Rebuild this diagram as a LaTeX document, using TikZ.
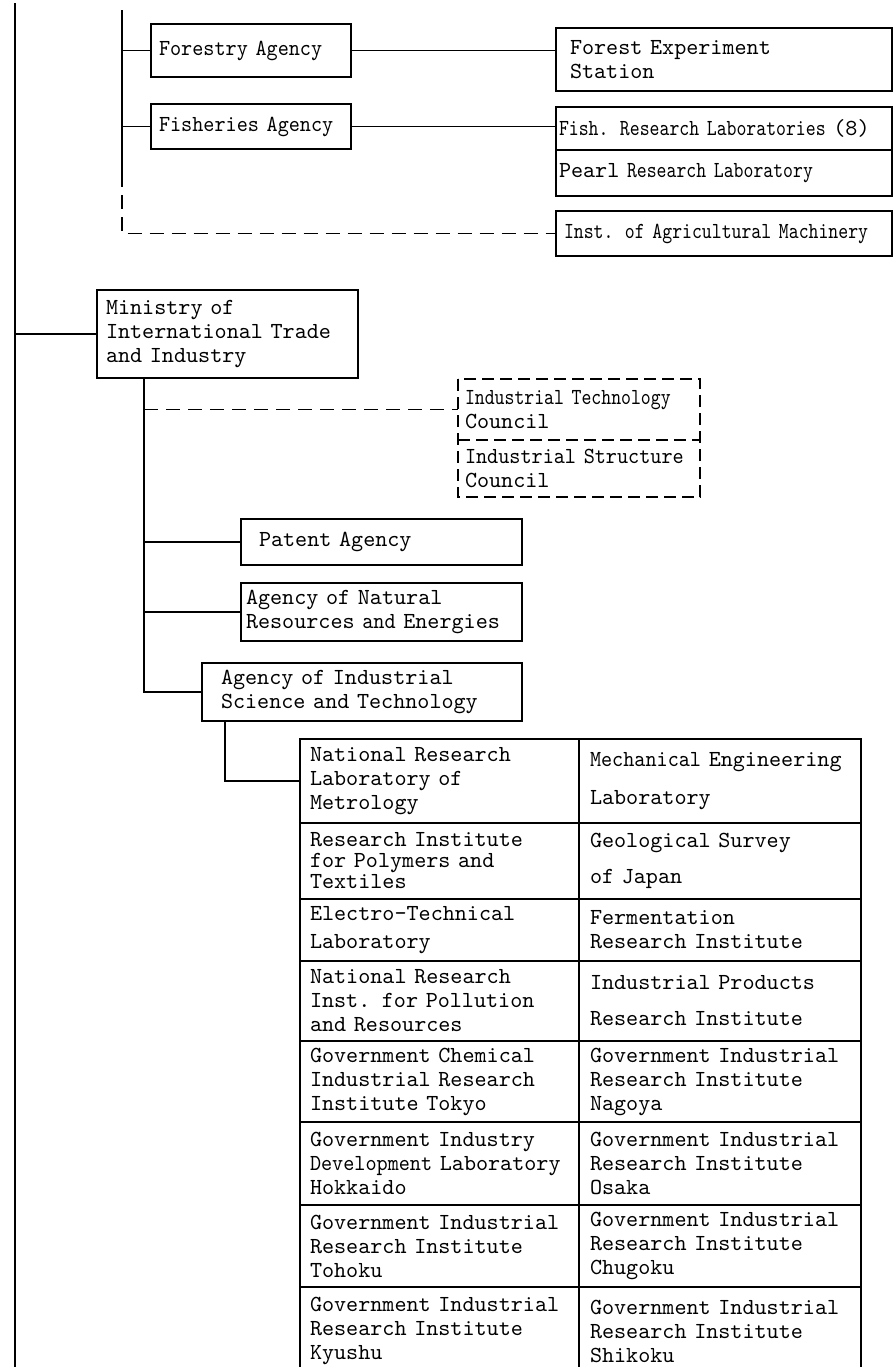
\documentclass[tikz,border=0pt]{standalone}
\usepackage{fontspec}
\setmainfont{lmmono10-regular.otf}
\newfontfamily\narrowfont[FakeStretch=0.82]{lmmono10-regular.otf}
\newfontfamily\slimfont[FakeStretch=0.92]{lmmono10-regular.otf}
\usepackage{tikz}
\usetikzlibrary{positioning}
\tikzset{
	box/.style={draw, rectangle, line width=0.9pt, outer sep=0pt, anchor=north west, align=left, inner ysep=1pt, font=\fontsize{11.5pt}{12pt}\selectfont},
	lcell/.style={box, inner xsep=5pt, text width=129.5pt, minimum width=139.5pt},
	rcell/.style={box, inner xsep=5.5pt, text width=130pt, minimum width=141pt},
	link/.style={line width=0.9pt},
	dlink/.style={link, dash pattern=on 7pt off 4pt},
}

\begin{document}
\begin{tikzpicture}[x=0.5pt, y=-0.5pt]
				\clip (0,0) rectangle (894,1367);
				
				\node[box, inner xsep=4pt, text width=92pt, minimum width=100pt, minimum height=26.5pt] (forestry) at (151,24) {\slimfont Forestry Agency};
				\node[box, inner xsep=4pt, text width=92pt, minimum width=100pt, minimum height=22.5pt] (fisheries) at (151,104) {\slimfont Fisheries Agency};
				\node[box, inner xsep=7pt, text width=154pt, minimum width=168pt, minimum height=31.5pt] (forestexp) at (556,28) {Forest Experiment\\Station};
				\node[box, inner xsep=1.5pt, text width=165pt, minimum width=168pt, minimum height=21.5pt] (fishlab) at (556,107) {{\narrowfont Fish. Research Laboratories} (8)};
				\node[box, inner xsep=1.5pt, text width=165pt, minimum width=168pt, minimum height=23pt, below=0pt of fishlab] (pearl) {Pearl {\narrowfont Research Laboratory}};
				\node[box, inner xsep=4pt, text width=160pt, minimum width=168pt, minimum height=22.5pt] (agrimach) at (556,211) {\narrowfont Inst. of Agricultural Machinery};
				
				\node[box, inner xsep=4.5pt, text width=121.5pt, minimum width=130.5pt, minimum height=44pt] (ministry) at (97,290) {Ministry of\\International Trade\\and Industry};
				\node[box, draw=none, inner xsep=3.5pt, text width=114pt, minimum width=121pt, minimum height=30.5pt] (techcouncil) at (458,379) {{\narrowfont Industrial Technology}\\Council};
				\node[box, draw=none, inner xsep=3.5pt, text width=114pt, minimum width=121pt, minimum height=28.5pt, below=0pt of techcouncil] (structcouncil) {{\slimfont Industrial Structure}\\Council};
				\node[box, inner xsep=9pt, text width=122.5pt, minimum width=140.5pt, minimum height=23pt] (patent) at (241,519) {Patent Agency};
				\node[box, inner xsep=2.5pt, text width=135.5pt, minimum width=140.5pt, minimum height=29pt] (natres) at (241,583) {Agency of Natural\\Resources {\slimfont and} Energies};
				\node[box, inner xsep=9.5pt, text width=141pt, minimum width=160pt, minimum height=29pt] (aist) at (202,663) {Agency of Industrial\\Science and Technology};
				
				\node[lcell, minimum height=42pt] (c1l) at (300,739) {National Research\\Laboratory of\\Metrology};
				\node[rcell, minimum height=42pt, right=0pt of c1l] (c1r) {{\slimfont Mechanical} Engineering\\[7pt]Laboratory};
				\node[lcell, minimum height=38pt, below=0pt of c1l] (c2l) {Research Institute\\[-1.5pt]for Polymers and\\[-1.5pt]Textiles};
				\node[rcell, minimum height=38pt, right=0pt of c2l] (c2r) {Geological Survey\\[6pt]of Japan};
				\node[lcell, minimum height=31pt, below=0pt of c2l] (c3l) {Electro-Technical\\[2pt]Laboratory};
				\node[rcell, minimum height=31pt, right=0pt of c3l] (c3r) {Fermentation\\Research Institute};
				\node[lcell, minimum height=40pt, below=0pt of c3l] (c4l) {National Research\\Inst. for Pollution\\and Resources};
				\node[rcell, minimum height=40pt, right=0pt of c4l] (c4r) {Industrial Products\\[6pt]Research Institute};
				\node[lcell, minimum height=40.5pt, below=0pt of c4l] (c5l) {Government Chemical\\Industrial Research\\Institute Tokyo};
				\node[rcell, minimum height=40.5pt, right=0pt of c5l] (c5r) {Government Industrial\\Research Institute\\Nagoya};
				\node[lcell, minimum height=41.5pt, below=0pt of c5l] (c6l) {Government Industry\\{\slimfont Development} Laboratory\\Hokkaido};
				\node[rcell, minimum height=41.5pt, right=0pt of c6l] (c6r) {Government Industrial\\Research Institute\\Osaka};
				\node[lcell, minimum height=41pt, below=0pt of c6l] (c7l) {Government Industrial\\Research Institute\\Tohoku};
				\node[rcell, minimum height=41pt, right=0pt of c7l] (c7r) {Government Industrial\\Research Institute\\Chugoku};
				\node[lcell, minimum height=44pt, below=0pt of c7l] (c8l) {Government Industrial\\Research Institute\\Kyushu};
				\node[rcell, minimum height=44pt, right=0pt of c8l] (c8r) {Government Industrial\\Research Institute\\Shikoku};
				
				\coordinate (maintop) at (15,3);
				\coordinate (mainbot) at (15,1367);
				\coordinate (agrtop) at (122,10);
				\coordinate (agrbreak) at (122,173);
				\coordinate (miti) at (144,378);
				\coordinate (aistfoot) at (225,721);
				
				\draw[link] (maintop) -- (mainbot);
				\draw[link] (maintop |- ministry.west) -- (ministry.west);
				\draw[link] (agrtop) -- (agrbreak);
				\draw[dlink] (agrbreak) |- (agrimach.west);
				\draw[link] (agrtop |- forestry.west) -- (forestry.west);
				\draw[link] (agrtop |- fisheries.west) -- (fisheries.west);
				\draw[link] (forestry.east) -- (forestry.east -| forestexp.west);
				\draw[link] (fisheries.east) -- (fisheries.east -| fishlab.west);
				
				\draw[link] (miti) |- (aist.west);
				\draw[dlink] (miti |- techcouncil.west) -- (techcouncil.west);
				\draw[link] (miti |- patent.west) -- (patent.west);
				\draw[link] (miti |- natres.west) -- (natres.west);
				\draw[dlink, dash pattern=on 6pt off 3pt] (techcouncil.north west) rectangle (structcouncil.south east);
				\draw[dlink, dash pattern=on 6pt off 3pt] (techcouncil.south west) -- (techcouncil.south east);
				
				\draw[link] (aistfoot) |- (c1l.west);
\end{tikzpicture}
\end{document}
